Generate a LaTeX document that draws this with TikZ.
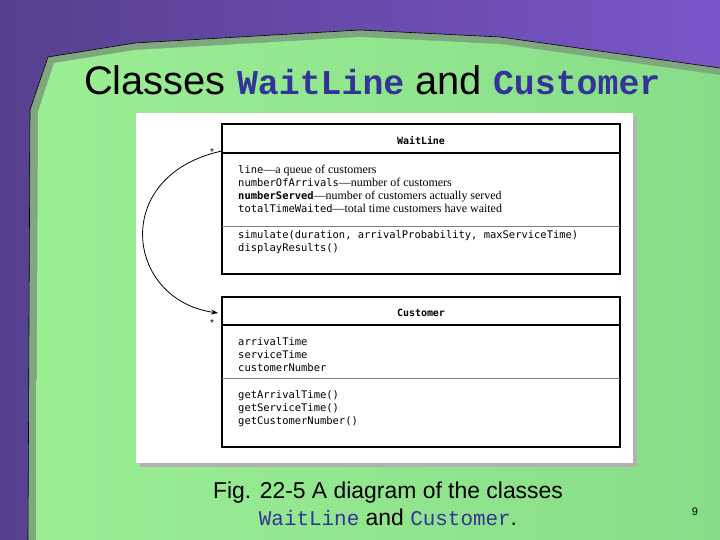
\documentclass[tikz,border=0pt]{standalone}
\usepackage{fontspec}
\usetikzlibrary{arrows.meta}
\setmainfont{Liberation Sans}
\newfontfamily\cour{Liberation Mono}
\newfontfamily\dmono{DejaVu Sans Mono}
\newfontfamily\tser{Liberation Serif}
\definecolor{bgpurple}{HTML}{56408E}
\definecolor{bgpurple2}{HTML}{7A55C8}
\definecolor{panel}{HTML}{9BEE94}
\definecolor{panel2}{HTML}{88DD88}
\definecolor{pborder}{HTML}{7FA87F}
\definecolor{codeblue}{HTML}{333399}
\begin{document}
\begin{tikzpicture}[x=1bp,y=-1bp,
  uml/.style={draw=black,line width=1.2pt},
  mtxt/.style={anchor=north west,inner sep=0pt,font=\dmono\fontsize{10.5}{13}\selectfont,align=left},
  star/.style={inner sep=0pt,font=\fontsize{10}{10}\selectfont}]
\useasboundingbox (0,0) rectangle (720,540);
\shade[left color=bgpurple,right color=bgpurple2] (0,0) rectangle (720,540);
% panel
\fill[pborder] (48,57) -- (135,43) -- (360,30) -- (500,37) -- (720,68) -- (720,540) -- (28,540) -- (30,110) -- cycle;
\draw[black,line width=0.6pt] (48,57) -- (135,43) -- (360,30) -- (500,37) -- (720,68);
\draw[black,line width=0.6pt] (48,57) -- (30,110) -- (28,540);
\shade[left color=panel,right color=panel2] (54,63) -- (135,50) -- (360,37) -- (500,44) -- (720,75) -- (720,540) -- (36,540) -- (38,112) -- cycle;
% title
\node[anchor=base west,inner sep=0pt,font=\fontsize{40}{40}\selectfont] (title) at (84,95)
 {Classes {\cour\bfseries\color{codeblue}\fontsize{35}{35}\selectfont WaitLine} and {\cour\bfseries\color{codeblue}\fontsize{35}{35}\selectfont Customer}};
% figure
\fill[gray!60] (140,117) rectangle (637,467);
\fill[white] (136,113) rectangle (633,463);
\draw[uml] (222,124) rectangle (620,274);
\draw[uml] (222,153) -- (620,153);
\draw[gray,line width=0.8pt] (222,226) -- (620,226);
\draw[uml] (222,297) rectangle (620,447);
\draw[uml] (222,325) -- (620,325);
\draw[gray,line width=1pt] (222,378) -- (620,378);
\node[font=\dmono\bfseries\fontsize{10}{10}\selectfont] (wl) at (421,141) {WaitLine};
\node[font=\dmono\bfseries\fontsize{10}{10}\selectfont] (cu) at (421,313) {Customer};
\node[mtxt] (wla) at (238,165) {line{\tser\fontsize{12}{13}\selectfont—a queue of customers}\\
numberOfArrivals{\tser\fontsize{12}{13}\selectfont—number of customers}\\
\textbf{numberServed}{\tser\fontsize{12}{13}\selectfont—number of customers actually served}\\
totalTimeWaited{\tser\fontsize{12}{13}\selectfont—total time customers have waited}};
\node[mtxt] (wlm) at (238,230) {simulate(duration, arrivalProbability, maxServiceTime)\\
displayResults()};
\node[mtxt] (cua) at (238,337) {arrivalTime\\serviceTime\\customerNumber};
\node[mtxt] (cum) at (238,390) {getArrivalTime()\\getServiceTime()\\getCustomerNumber()};
\coordinate (a1) at (222,151);
\coordinate (a2) at (218,313);
\draw[line width=0.8pt,-{Stealth[length=7pt,width=5pt]}] (a1) .. controls (110,175) and (125,300) .. (a2);
\node[star] (s1) at (212,152) {*};
\node[star] (s2) at (212,323) {*};
% caption
\node[align=center,font=\fontsize{23}{27}\selectfont] (cap) at (388,504)
 {Fig. 22-5 A diagram of the classes\\ {\cour\color{codeblue}\fontsize{21}{21}\selectfont WaitLine} and {\cour\color{codeblue}\fontsize{21}{21}\selectfont Customer}.};
\node[font=\fontsize{11}{11}\selectfont] (pg) at (695,512) {9};
\end{tikzpicture}
\end{document}
